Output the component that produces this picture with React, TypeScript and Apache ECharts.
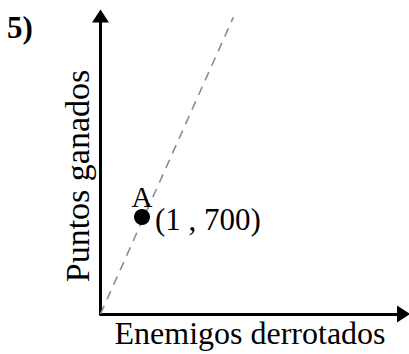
import React, { useEffect, useRef } from "react";
import * as echarts from "echarts";

const titleText = "5)";
const xAxisName = "Enemigos derrotados";
const yAxisName = "Puntos ganados";
const pointName = "A";
const pointValues: [number, number][] = [[1, 700]];
const guideLine: [number, number][] = [[0, 0], [3.2, 2140]];
const xRange = [0, 7.3];
const yRange = [0, 2150];

const FONT = "Liberation Serif";

export default function App() {
  const ref = useRef<HTMLDivElement>(null);
  useEffect(() => {
    if (!ref.current) return;
    const chart = echarts.init(ref.current, undefined, { renderer: "svg" });
    const axisLine = {
      show: true,
      symbol: ["none", "triangle"],
      symbolSize: [17, 13],
      lineStyle: { color: "#000", width: 3 },
    };
    chart.setOption({
      animation: false,
      backgroundColor: "#fff",
      textStyle: { fontFamily: FONT, color: "#000" },
      title: {
        text: titleText,
        left: 7,
        top: 12,
        padding: 0,
        textStyle: { fontFamily: FONT, fontSize: 31, fontWeight: "bold", color: "#000" },
      },
      grid: { left: 100.5, right: 5.5, top: 16, bottom: 33 },
      xAxis: {
        type: "value",
        min: xRange[0],
        max: xRange[1],
        name: xAxisName,
        nameLocation: "middle",
        nameGap: 3,
        nameTextStyle: { fontFamily: FONT, fontSize: 32, color: "#000", verticalAlign: "top", padding: [0, 4, 0, 0] },
        axisLine,
        axisTick: { show: false },
        axisLabel: { show: false },
        splitLine: { show: false },
      },
      yAxis: {
        type: "value",
        min: yRange[0],
        max: yRange[1],
        name: yAxisName,
        nameLocation: "middle",
        nameGap: 6,
        nameTextStyle: { fontFamily: FONT, fontSize: 34, color: "#000", padding: [0, 22, 0, 0] },
        axisLine,
        axisTick: { show: false },
        axisLabel: { show: false },
        splitLine: { show: false },
      },
      series: [
        {
          type: "line",
          data: guideLine,
          symbol: "none",
          silent: true,
          z: 1,
          lineStyle: { color: "#8c8c8c", width: 1.6, type: [9, 7] },
        },
        {
          type: "scatter",
          data: pointValues,
          symbol: "circle",
          symbolSize: 16,
          z: 5,
          itemStyle: { color: "#000", opacity: 1 },
          label: {
            show: true,
            position: "right",
            distance: 5,
            offset: [0, 3],
            fontFamily: FONT,
            fontSize: 31,
            color: "#000",
            formatter: (p: any) => `(${p.value[0]} , ${p.value[1]})`,
          },
        },
        {
          type: "scatter",
          data: pointValues,
          symbol: "circle",
          symbolSize: 16,
          z: 4,
          itemStyle: { color: "rgba(0,0,0,0)", opacity: 1 },
          label: {
            show: true,
            position: "top",
            distance: -3,
            fontFamily: FONT,
            fontSize: 29,
            color: "#000",
            formatter: () => pointName,
          },
        },
      ],
    });
    return () => chart.dispose();
  }, []);
  return (
    <div
      ref={ref}
      style={{ position: "fixed", left: 0, top: 0, width: 409, height: 354, background: "#fff" }}
    />
  );
}
